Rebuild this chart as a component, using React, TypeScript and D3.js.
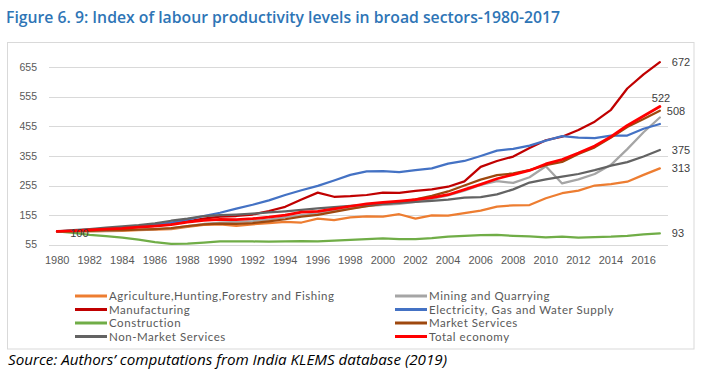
import React from "react";
import * as d3 from "d3";

const years = [1980,1981,1982,1983,1984,1985,1986,1987,1988,1989,1990,1991,1992,1993,1994,1995,1996,1997,1998,1999,2000,2001,2002,2003,2004,2005,2006,2007,2008,2009,2010,2011,2012,2013,2014,2015,2016,2017];
const xTickYears = [1980,1982,1984,1986,1988,1990,1992,1994,1996,1998,2000,2002,2004,2006,2008,2010,2012,2014,2016];
const yTicks = [55,155,255,355,455,555,655];

const agriculture = [100,99,100,101,102,104,106,108,115,122,124,119,124,128,132,130,143,138,147,151,150,158,143,154,153,162,170,184,188,189,212,229,238,255,260,268,291,313];
const mining = [100,100,101,102,104,106,108,110,118,125,130,132,135,140,148,155,162,170,178,185,190,193,200,210,222,238,257,270,264,283,320,262,276,294,325,378,435,485];
const manufacturing = [100,102,105,108,111,115,119,125,134,143,150,152,157,169,183,208,231,217,219,223,231,230,237,242,251,269,318,338,353,382,408,420,443,471,511,583,631,672];
const electricity = [100,103,106,109,113,118,123,130,140,152,163,177,190,205,223,239,254,272,291,303,304,300,307,313,329,338,355,373,379,390,407,422,417,415,424,424,447,463];
const construction = [100,95,88,84,79,72,64,58,59,62,66,66,66,65,66,67,66,69,71,74,76,74,74,77,82,85,87,88,85,83,80,82,79,81,82,85,90,93];
const marketServices = [100,101,102,103,104,106,108,111,118,124,126,125,128,134,141,150,156,166,176,185,193,198,208,220,235,255,275,290,296,307,324,335,362,384,417,453,480,508];
const nonMarketServices = [100,104,108,113,117,121,127,136,143,152,155,157,160,164,168,173,178,182,186,190,193,196,200,203,207,214,216,225,242,265,276,285,294,307,322,334,353,375];
const totalEconomy = [100,102,105,108,110,114,118,123,131,137,141,140,143,148,155,165,168,176,185,193,198,202,207,214,224,241,259,278,292,306,328,343,365,389,420,458,490,522];

const seriesNames = ["Agriculture,Hunting,Forestry and Fishing","Mining and Quarrying","Manufacturing","Electricity, Gas and Water Supply","Construction","Market Services","Non-Market Services","Total economy"];
const seriesColors = ["#ED7D31","#A5A5A5","#C00000","#4472C4","#70AD47","#9E480E","#636363","#FF0000"];
const seriesValues = [agriculture, mining, manufacturing, electricity, construction, marketServices, nonMarketServices, totalEconomy];

const endLabels = [
  { s: 2, text: "672", dx: 12, dy: 0 },
  { s: 7, text: "522", dx: -8, dy: -8 },
  { s: 5, text: "508", dx: 7, dy: 0 },
  { s: 6, text: "375", dx: 12, dy: 0 },
  { s: 0, text: "313", dx: 12, dy: 0 },
  { s: 4, text: "93", dx: 12, dy: 0 },
];

export default function App() {
  const W = 713, H = 381;
  const x = d3.scalePoint<number>().domain(years).range([49, 668]).padding(0.5);
  const y = d3.scaleLinear().domain([55, 655]).range([244.7, 67.2]);
  const line = d3.line<number>().x((_, i) => x(years[i]) as number).y((d) => y(d));
  const tickFont = "'Liberation Sans', Arial, sans-serif";
  const legFont = "Lato, 'Noto Sans', sans-serif";
  const legendCols = [75, 395];
  const legendRows = [296, 309.5, 323, 336.5];

  return (
    <svg width={W} height={H} style={{ position: "absolute", left: 0, top: 0, background: "#fff" }}>
      <rect x={0} y={0} width={W} height={H} fill="#fff" />
      <text x={6} y={22.5} fill="#2E75B6" fontFamily="'Open Sans', sans-serif" fontWeight={600} fontSize={16.5} textLength={554} lengthAdjust="spacingAndGlyphs">
        Figure 6. 9: Index of labour productivity levels in broad sectors-1980-2017
      </text>
      <rect x={7.5} y={42.5} width={686.5} height={306.5} fill="none" stroke="#D9D9D9" strokeWidth={1} />
      {yTicks.map((t) => (
        <g key={t}>
          <line x1={49} x2={668} y1={Math.round(y(t)) + 0.5} y2={Math.round(y(t)) + 0.5} stroke="#D9D9D9" strokeWidth={1} />
          <text x={37} y={y(t)} dy="0.35em" textAnchor="end" fontFamily={tickFont} fontSize={10.5} fill="#595959">{t}</text>
        </g>
      ))}
      {xTickYears.map((yr) => (
        <text key={yr} x={x(yr)} y={264} textAnchor="middle" fontFamily={tickFont} fontSize={11} fill="#595959">{yr}</text>
      ))}
      {seriesValues.map((vals, i) => (
        <path key={i} d={line(vals) || ""} fill="none" stroke={seriesColors[i]} strokeWidth={i === 7 ? 2.75 : 2.25} strokeLinejoin="round" strokeLinecap="round" />
      ))}
      <text x={(x(1981) as number) + 6} y={y(100) + 1.5} dy="0.35em" textAnchor="middle" fontFamily={tickFont} fontSize={11} fill="#404040">100</text>
      {endLabels.map((l, k) => {
        const vals = seriesValues[l.s];
        const v = vals[vals.length - 1];
        return (
          <text key={k} x={(x(2017) as number) + l.dx} y={y(v) + l.dy} dy="0.35em" fontFamily={tickFont} fontSize={11} fill="#404040">{l.text}</text>
        );
      })}
      {seriesNames.map((name, i) => {
        const cx = legendCols[i % 2];
        const cy = legendRows[Math.floor(i / 2)];
        return (
          <g key={name}>
            <line x1={cx} x2={cx + 32} y1={cy} y2={cy} stroke={seriesColors[i]} strokeWidth={3} />
            <text x={cx + 34} y={cy} dy="0.35em" fontFamily={legFont} fontSize={11.5} letterSpacing={0.55} fill="#595959">{name}</text>
          </g>
        );
      })}
      <text x={8} y={365} fontFamily="'Open Sans', sans-serif" fontStyle="italic" fontSize={14} fill="#000" textLength={439} lengthAdjust="spacingAndGlyphs">
        Source: Authors’ computations from India KLEMS database (2019)
      </text>
    </svg>
  );
}
